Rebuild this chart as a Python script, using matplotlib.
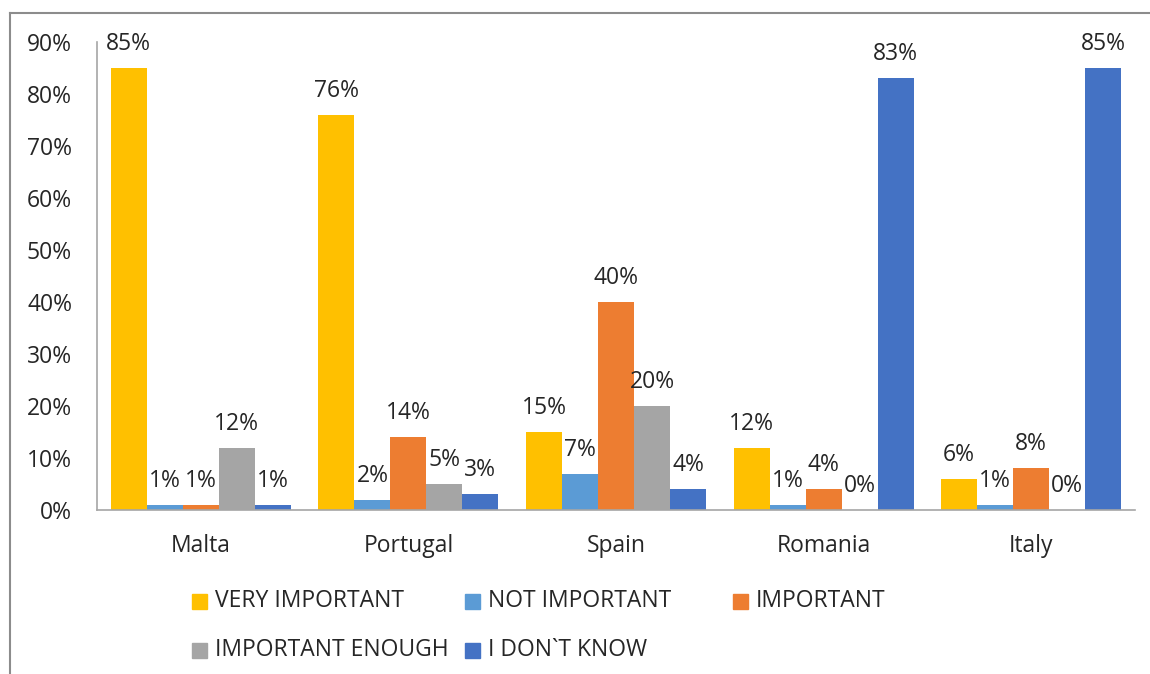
import matplotlib
matplotlib.use("Agg")
import matplotlib.pyplot as plt
from matplotlib.patches import Rectangle
from matplotlib.lines import Line2D
import numpy as np

plt.rcParams['font.family'] = ['Open Sans', 'DejaVu Sans']

countries = ["Malta", "Portugal", "Spain", "Romania", "Italy"]
series_names = ["VERY IMPORTANT", "NOT IMPORTANT", "IMPORTANT",
                "IMPORTANT ENOUGH", "I DON`T KNOW"]
very_important = [85, 76, 15, 12, 6]
not_important = [1, 2, 7, 1, 1]
important = [1, 14, 40, 4, 8]
important_enough = [12, 5, 20, 0, 0]
dont_know = [1, 3, 4, 83, 85]
y_ticks = [0, 10, 20, 30, 40, 50, 60, 70, 80, 90]

series_values = [very_important, not_important, important,
                 important_enough, dont_know]
colors = ["#FFC000", "#5B9BD5", "#ED7D31", "#A5A5A5", "#4472C4"]

fig = plt.figure(figsize=(11.5, 6.74), dpi=100)
ax = fig.add_axes([97 / 1150, 1 - 510 / 674, (1135 - 97) / 1150, (510 - 42) / 674])

x = np.arange(len(countries))
width = 0.1735
text_color = "#262626"
for i, (name, vals, col) in enumerate(zip(series_names, series_values, colors)):
    pos = x + (i - 2) * width
    ax.bar(pos, vals, width=width, color=col, label=name)
    for px, v in zip(pos, vals):
        ax.annotate(f"{v}%", (px, v), xytext=(0, 13), textcoords="offset points",
                    ha="center", va="baseline", fontsize=16.5, color=text_color)

ax.set_xlim(-0.5, len(countries) - 0.5)
ax.set_ylim(0, 90)
ax.set_yticks(y_ticks)
ax.set_yticklabels([f"{t}%" for t in y_ticks])
ax.set_xticks(x)
ax.set_xticklabels(countries)
ax.tick_params(axis="both", length=0, labelsize=16.5, labelcolor=text_color)
ax.tick_params(axis="y", pad=18)
ax.tick_params(axis="x", pad=17)
for side in ["top", "right"]:
    ax.spines[side].set_visible(False)
for side in ["left", "bottom"]:
    ax.spines[side].set_color("#A6A6A6")
    ax.spines[side].set_linewidth(1.2)

# legend laid out in rows of three
legend_cols = [192, 465, 733]
legend_rows = [601, 650]
for i, (name, col) in enumerate(zip(series_names, colors)):
    r, c = divmod(i, 3)
    lx = legend_cols[c]
    ly = legend_rows[r]
    fig.patches.append(Rectangle((lx / 1150, 1 - (ly + 7.5) / 674), 15 / 1150, 15 / 674,
                                 transform=fig.transFigure, color=col))
    fig.text((lx + 23) / 1150, 1 - ly / 674, name, ha="left", va="center",
             fontsize=16.5, color=text_color)

# outer chart border
fig.add_artist(Line2D([10 / 1150, 1], [1 - 13 / 674, 1 - 13 / 674],
                      transform=fig.transFigure, color="#8C8C8C", lw=1.5))
fig.add_artist(Line2D([10 / 1150, 10 / 1150], [0, 1 - 13 / 674],
                      transform=fig.transFigure, color="#8C8C8C", lw=1.5))

fig.savefig("out.png", dpi=100)
